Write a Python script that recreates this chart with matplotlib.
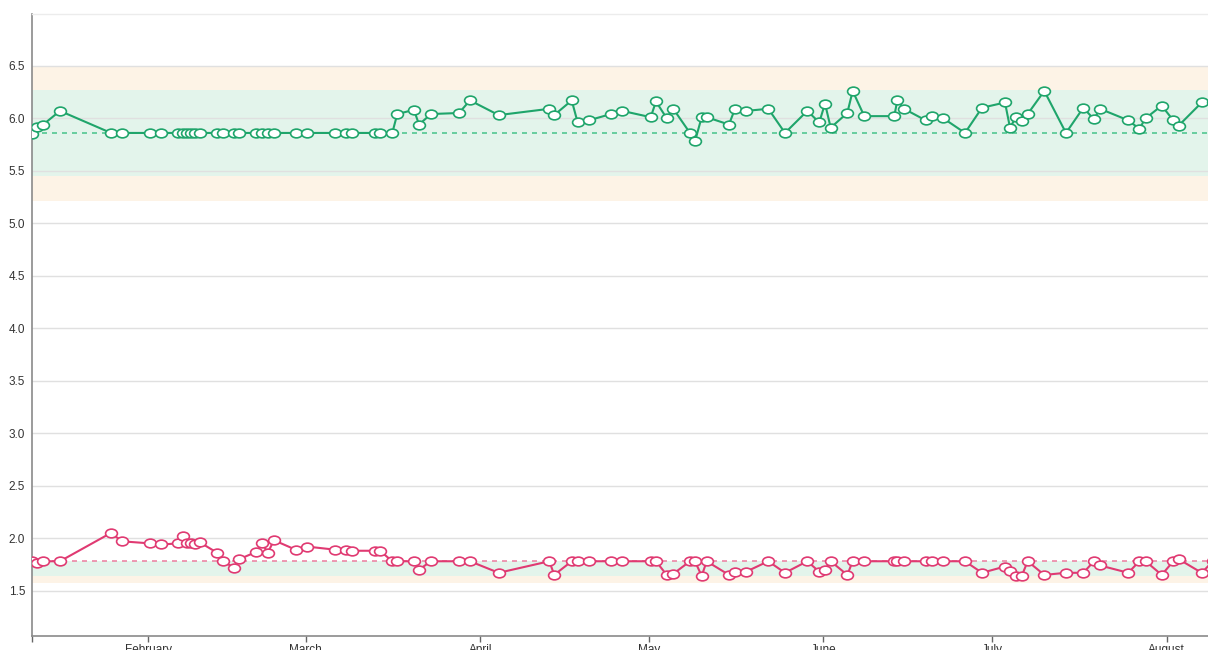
import numpy as np
import matplotlib
matplotlib.use('Agg')
import matplotlib.pyplot as plt
import matplotlib.dates as mdates
from matplotlib.path import Path
from matplotlib.transforms import Affine2D

# day of year 2019 (Jan 1 = 0), shared by both series
day = [10.38, 11.16, 12.33, 15.30, 24.37, 26.32, 31.35, 33.31, 36.33, 37.11,
       37.82, 38.53, 39.35, 40.18, 43.26, 44.22, 46.23, 47.17, 50.23, 51.29,
       52.22, 53.34, 57.19, 59.20, 64.23, 66.13, 67.25, 71.24, 72.18, 74.36,
       75.25, 78.22, 79.11, 81.24, 86.22, 88.17, 93.27, 102.27, 103.15, 106.25,
       107.31, 109.27, 113.23, 115.24, 120.29, 121.23, 123.13, 124.30, 127.27, 128.16,
       129.35, 130.24, 134.20, 135.27, 137.23, 141.19, 144.16, 148.12, 150.25, 151.27,
       152.28, 155.23, 156.19, 158.25, 163.58, 164.12, 165.31, 169.16, 170.23, 172.29,
       176.15, 179.17, 183.26, 184.15, 185.21, 186.23, 187.29, 190.24, 194.10, 197.18,
       199.07, 200.14, 205.17, 207.13, 208.26, 211.11, 213.17, 214.13, 218.22, 220.2]

upper = [5.85, 5.92, 5.94, 6.07, 5.86, 5.86, 5.86, 5.86, 5.86, 5.86,
         5.86, 5.86, 5.86, 5.86, 5.86, 5.86, 5.86, 5.86, 5.86, 5.86,
         5.86, 5.86, 5.86, 5.86, 5.86, 5.86, 5.86, 5.86, 5.86, 5.86,
         6.04, 6.08, 5.94, 6.04, 6.05, 6.17, 6.03, 6.09, 6.03, 6.17,
         5.96, 5.98, 6.04, 6.07, 6.01, 6.16, 6.00, 6.09, 5.86, 5.78,
         6.01, 6.01, 5.94, 6.09, 6.07, 6.09, 5.86, 6.07, 5.96, 6.14,
         5.91, 6.05, 6.26, 6.02, 6.02, 6.17, 6.09, 5.98, 6.02, 6.00,
         5.86, 6.10, 6.15, 5.91, 6.01, 5.97, 6.04, 6.26, 5.86, 6.10,
         5.99, 6.09, 5.98, 5.90, 6.00, 6.12, 5.98, 5.93, 6.15, 6.15]

lower = [1.78, 1.76, 1.78, 1.78, 2.05, 1.97, 1.95, 1.94, 1.95, 2.02,
         1.95, 1.95, 1.94, 1.96, 1.86, 1.78, 1.72, 1.80, 1.87, 1.95,
         1.86, 1.98, 1.89, 1.92, 1.89, 1.89, 1.88, 1.88, 1.88, 1.78,
         1.78, 1.78, 1.70, 1.78, 1.78, 1.78, 1.67, 1.78, 1.65, 1.78,
         1.78, 1.78, 1.78, 1.78, 1.78, 1.78, 1.65, 1.66, 1.78, 1.78,
         1.64, 1.78, 1.65, 1.68, 1.68, 1.78, 1.67, 1.78, 1.68, 1.70,
         1.78, 1.65, 1.78, 1.78, 1.78, 1.78, 1.78, 1.78, 1.78, 1.78,
         1.78, 1.67, 1.73, 1.69, 1.64, 1.64, 1.78, 1.65, 1.67, 1.67,
         1.78, 1.74, 1.67, 1.78, 1.78, 1.65, 1.78, 1.80, 1.67, 1.78]

upper_mean = 5.86
upper_band_outer = (5.21, 6.50)
upper_band_inner = (5.45, 6.27)
lower_mean = 1.78
lower_band_outer = (1.57, 1.64)
lower_band_inner = (1.64, 1.78)

y_ticks = [1.5, 2.0, 2.5, 3.0, 3.5, 4.0, 4.5, 5.0, 5.5, 6.0, 6.5]
month_ticks = ['2019-02-01', '2019-03-01', '2019-04-01', '2019-05-01',
               '2019-06-01', '2019-07-01', '2019-08-01']
month_labels = ['February', 'March', 'April', 'May', 'June', 'July', 'August']

base = np.datetime64('2019-01-01T00:00')
dates = base + np.round(np.array(day) * 1440).astype('timedelta64[m]')
x_start = base + np.timedelta64(int(10.33 * 1440), 'm')
x_end = base + np.timedelta64(int(219.34 * 1440), 'm')

green = '#1fa56b'
green_dash = '#52c792'
pink = '#e03a72'
pink_dash = '#ec86a6'
band_orange = '#fdf3e6'
band_green = '#e3f4eb'

# slightly wide ellipse marker
ell = Path.unit_circle().transformed(Affine2D().scale(1.35, 1.0))

plt.rcParams['font.family'] = ['Liberation Sans', 'DejaVu Sans']

fig = plt.figure(figsize=(12.08, 6.5), dpi=100)
ax = fig.add_axes([32/1208, 14/650, 1 - 32/1208, 622/650])

for lo, hi in [upper_band_outer, lower_band_outer]:
    ax.axhspan(lo, hi, color=band_orange, lw=0, zorder=0)
for lo, hi in [upper_band_inner, lower_band_inner]:
    ax.axhspan(lo, hi, color=band_green, lw=0, zorder=0.5)

for t in y_ticks:
    ax.axhline(t, color='#e0e0e0', lw=1, zorder=1)

ax.axhline(upper_mean, color=green_dash, lw=1.2, ls=(0, (3, 3)), zorder=2)
ax.axhline(lower_mean, color=pink_dash, lw=1.2, ls=(0, (3, 3)), zorder=2)

ax.plot(dates, upper, color=green, lw=1.5, marker=ell, ms=8.5,
        mfc='white', mec=green, mew=1.2, zorder=3, clip_on=True)
ax.plot(dates, lower, color=pink, lw=1.5, marker=ell, ms=8.5,
        mfc='white', mec=pink, mew=1.2, zorder=3, clip_on=True)

ax.set_xlim(x_start, x_end)
ax.set_ylim(1.068, 6.993)

ax.set_yticks(y_ticks)
ax.set_yticklabels(['%.1f' % t for t in y_ticks])
ax.tick_params(axis='y', length=0, pad=5, labelsize=8.5, labelcolor='#333333')

tick_pos = [mdates.date2num(x_start)] + [mdates.date2num(np.datetime64(m)) for m in month_ticks]
ax.set_xticks(tick_pos)
ax.set_xticklabels([''] + month_labels)
ax.tick_params(axis='x', length=4, width=1, color='#666666', pad=2,
               labelsize=8.5, labelcolor='#333333')

for s in ['left', 'bottom']:
    ax.spines[s].set_color('#8a8a8a')
    ax.spines[s].set_linewidth(1.2)
ax.spines['top'].set_color('#ececec')
ax.spines['top'].set_linewidth(1)
ax.spines['right'].set_visible(False)

fig.savefig('out.png', dpi=100)
